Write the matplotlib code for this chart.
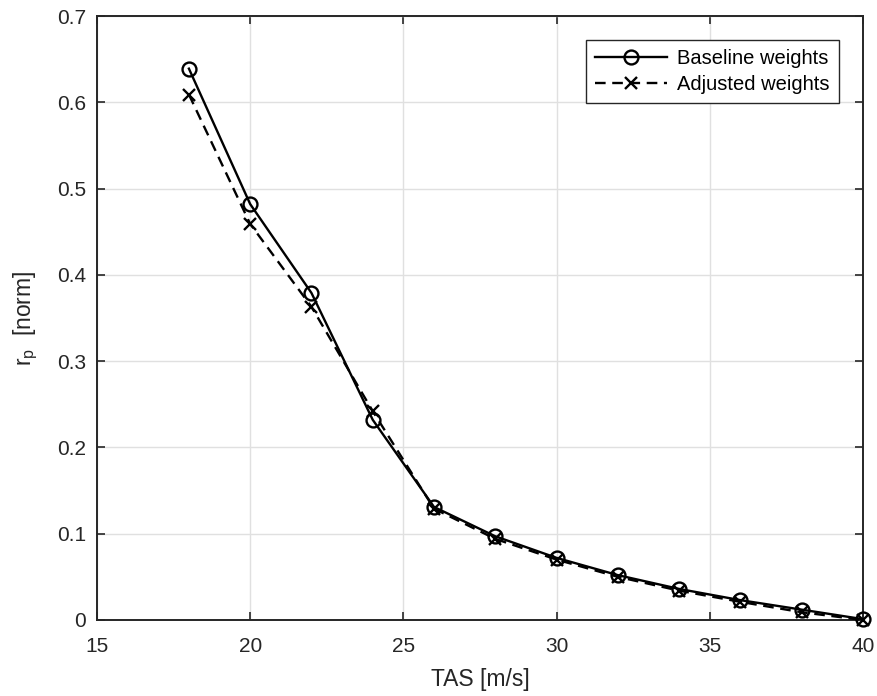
import matplotlib
matplotlib.use("Agg")
import matplotlib.pyplot as plt

plt.rcParams['font.family'] = ['Liberation Sans', 'DejaVu Sans']
plt.rcParams['mathtext.fontset'] = 'custom'
plt.rcParams['mathtext.rm'] = 'Liberation Sans'
plt.rcParams['mathtext.it'] = 'Liberation Sans'

tas = [18, 20, 22, 24, 26, 28, 30, 32, 34, 36, 38, 40]
baseline = [0.639, 0.482, 0.379, 0.232, 0.131, 0.097, 0.072, 0.052, 0.036, 0.023, 0.012, 0.001]
adjusted = [0.609, 0.459, 0.363, 0.242, 0.129, 0.094, 0.070, 0.050, 0.034, 0.021, 0.009, 0.000]

fig = plt.figure(figsize=(8.77, 6.96), dpi=100)
ax = fig.add_axes([0.1106, 0.1092, 0.8734, 0.8678])

tc = '#262626'
ax.plot(tas, baseline, '-', color='black', lw=1.7, marker='o', ms=10, mfc='none', mew=1.7,
        label='Baseline weights', clip_on=False, zorder=3)
ax.plot(tas, adjusted, color='black', lw=1.7, dashes=(4.5, 2.8), marker='x', ms=9, mew=1.7,
        label='Adjusted weights', clip_on=False, zorder=3)

ax.set_xlim(15, 40)
ax.set_ylim(0, 0.7)
ax.set_xticks([15, 20, 25, 30, 35, 40])
ax.set_yticks([0, 0.1, 0.2, 0.3, 0.4, 0.5, 0.6, 0.7])
ax.set_yticklabels(['0', '0.1', '0.2', '0.3', '0.4', '0.5', '0.6', '0.7'])
ax.grid(True, color='#e0e0e0', lw=1)
ax.set_axisbelow(True)
ax.tick_params(direction='in', top=True, right=True, labelsize=15, length=6, width=1.2,
               colors=tc)
ax.tick_params(axis='x', pad=12)
ax.tick_params(axis='y', pad=8)
for s in ax.spines.values():
    s.set_linewidth(1.4)
    s.set_color(tc)

ax.set_xlabel('TAS [m/s]', fontsize=16.5, color=tc, labelpad=9)
ax.set_ylabel(r'r$_{\mathrm{p}}$  [norm]', fontsize=16.5, color=tc, labelpad=12)

leg = ax.legend(loc='upper right', bbox_to_anchor=(0.9687, 0.9603), borderaxespad=0,
                fontsize=14.5, frameon=True, fancybox=False, edgecolor=tc, framealpha=1,
                handlelength=3.6, handletextpad=0.5, borderpad=0.45, labelspacing=0.35)
leg.get_frame().set_linewidth(1.0)
for t in leg.get_texts():
    t.set_color('black')

fig.savefig('out.png', dpi=100)
